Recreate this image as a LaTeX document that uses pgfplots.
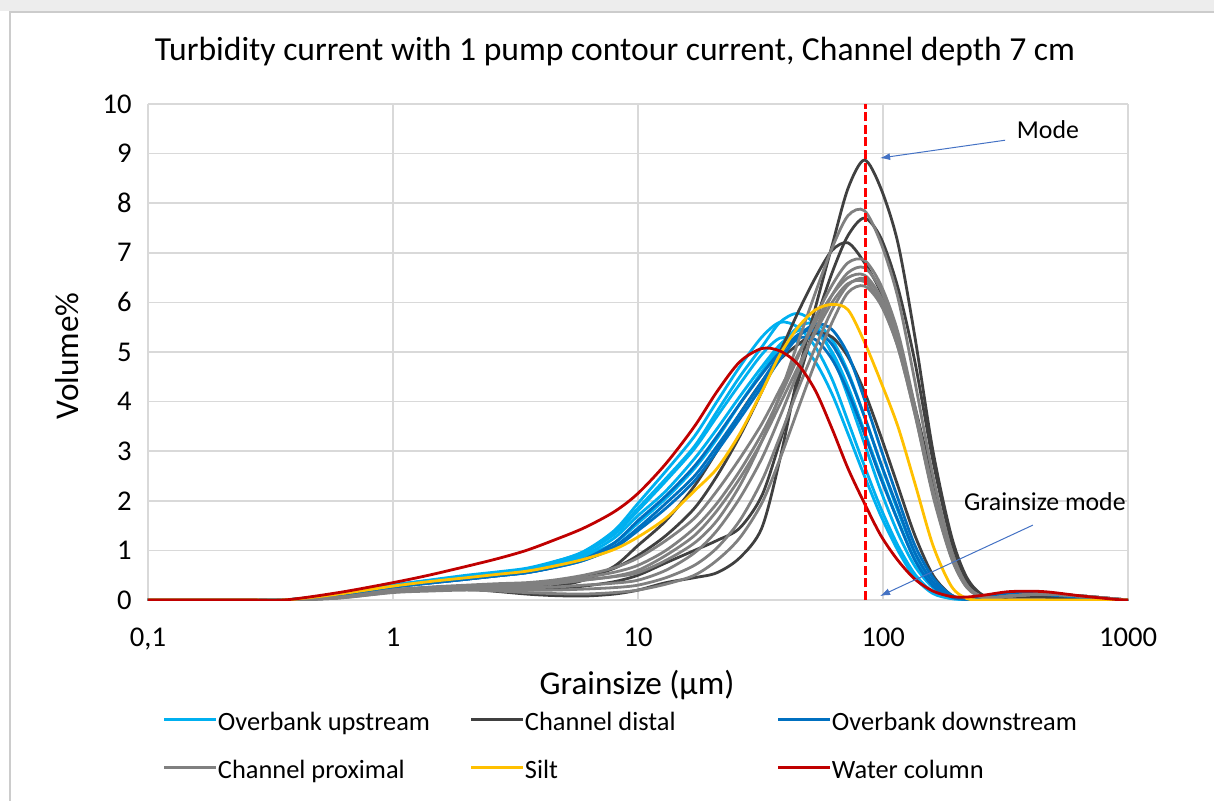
\documentclass[border=0pt]{standalone}
\usepackage{fontspec}
\setmainfont{Carlito}
\usepackage{pgfplots}
\usepackage{pgfplotstable}
\pgfplotsset{compat=1.18}
\usetikzlibrary{arrows.meta}

\definecolor{obup}{HTML}{00B0F0}
\definecolor{chdist}{HTML}{404040}
\definecolor{obdown}{HTML}{0070C0}
\definecolor{chprox}{HTML}{808080}
\definecolor{siltc}{HTML}{FFC000}
\definecolor{wcol}{HTML}{C00000}
\definecolor{gridc}{HTML}{D9D9D9}
\definecolor{arrowc}{HTML}{4472C4}

\pgfplotstableread{
name c01 c02 c03 c04 c05 c06 c07 c08 c09 c10 c11 c12 c13 c14 c15 c16 c17 c18 c19 c20 c21 c22 c23 c24 c25 c26 c27 c28 c29 c30 c31 c32 c33 c34 c35 c36
x 0.1 0.25 0.36 0.6 1 1.4 2 2.7 3.5 4.5 6 8 10 13 17 21 26 32 38 45 53 62 72 84 98 115 135 160 190 220 260 330 450 650 900 1000
wc 0 0 0 0.15 0.35 0.5 0.68 0.84 1.0 1.2 1.45 1.78 2.15 2.75 3.5 4.2 4.8 5.07 5.02 4.75 4.22 3.45 2.65 1.95 1.3 0.8 0.42 0.18 0.07 0.06 0.1 0.17 0.17 0.08 0.01 0
silt 0 0 0 0.12 0.28 0.37 0.45 0.52 0.58 0.68 0.82 1.02 1.27 1.65 2.2 2.65 3.35 4.2 4.95 5.5 5.85 5.96 5.85 5.2 4.4 3.5 2.35 1.1 0.28 0.03 0 0 0 0 0 0
lb1 0 0 0 0.12 0.3 0.39 0.48 0.55 0.62 0.75 0.95 1.35 1.85 2.45 3.1 3.8 4.5 5.1 5.6 5.78 5.55 4.95 4.1 3.15 2.2 1.35 0.68 0.25 0.05 0.02 0.06 0.12 0.1 0.05 0 0
lb2 0 0 0 0.12 0.3 0.39 0.48 0.55 0.62 0.76 0.98 1.4 1.95 2.6 3.3 4.0 4.7 5.3 5.6 5.5 5.1 4.45 3.6 2.7 1.85 1.1 0.52 0.16 0.03 0.02 0.06 0.1 0.08 0.04 0 0
lb3 0 0 0 0.1 0.28 0.37 0.46 0.53 0.6 0.72 0.9 1.25 1.7 2.2 2.85 3.45 4.1 4.7 5.15 5.43 5.4 5.0 4.3 3.4 2.5 1.6 0.82 0.3 0.06 0.02 0.07 0.12 0.1 0.05 0 0
lb4 0 0 0 0.12 0.3 0.4 0.5 0.57 0.64 0.77 0.96 1.32 1.8 2.4 3.05 3.7 4.35 4.95 5.28 5.2 4.8 4.15 3.35 2.5 1.7 1.0 0.45 0.13 0.03 0.02 0.06 0.1 0.08 0.04 0 0
lb5 0 0 0 0.1 0.27 0.36 0.45 0.52 0.58 0.7 0.88 1.15 1.55 2.05 2.65 3.25 3.95 4.6 5.1 5.5 5.58 5.25 4.6 3.7 2.75 1.8 0.95 0.36 0.08 0.02 0.07 0.12 0.1 0.05 0 0
db1 0 0 0 0.1 0.26 0.34 0.42 0.49 0.55 0.65 0.8 1.05 1.4 1.85 2.4 3.0 3.65 4.3 4.85 5.3 5.57 5.45 4.95 4.05 3.05 2.05 1.1 0.45 0.1 0.02 0.08 0.14 0.12 0.06 0 0
db2 0 0 0 0.1 0.26 0.34 0.42 0.49 0.55 0.66 0.82 1.15 1.6 2.1 2.7 3.3 3.95 4.55 5.0 5.28 5.25 4.85 4.2 3.35 2.45 1.6 0.8 0.28 0.06 0.02 0.07 0.13 0.11 0.05 0 0
db3 0 0 0 0.1 0.26 0.34 0.42 0.49 0.55 0.65 0.8 1.08 1.45 1.95 2.5 3.1 3.75 4.4 4.95 5.35 5.43 5.15 4.55 3.7 2.75 1.85 0.95 0.36 0.07 0.02 0.08 0.14 0.12 0.06 0 0
cd1 0 0 0 0.08 0.18 0.21 0.22 0.17 0.12 0.09 0.08 0.12 0.2 0.35 0.45 0.55 0.85 1.45 2.85 4.55 5.9 7.15 8.3 8.87 8.3 7.2 5.3 3.0 1.3 0.45 0.08 0.06 0.06 0.03 0 0
cd2 0 0 0 0.08 0.2 0.23 0.25 0.24 0.22 0.23 0.28 0.37 0.5 0.75 1.0 1.2 1.45 2.1 3.2 4.4 5.6 6.6 7.35 7.7 7.3 6.3 4.8 2.8 1.2 0.4 0.07 0.06 0.06 0.03 0 0
cd3 0 0 0 0.08 0.2 0.23 0.26 0.27 0.28 0.33 0.45 0.64 0.9 1.3 1.85 2.5 3.3 4.2 5.0 5.8 6.5 7.05 7.2 6.8 6.2 5.2 3.9 2.4 1.0 0.3 0.05 0.06 0.06 0.03 0 0
cd4 0 0 0 0.08 0.2 0.23 0.25 0.24 0.22 0.27 0.4 0.68 1.1 1.6 2.3 3.0 3.75 4.4 4.85 5.15 5.38 5.3 4.9 4.2 3.3 2.3 1.3 0.5 0.1 0.02 0.07 0.1 0.08 0.04 0 0
cp1 0 0 0 0.05 0.2 0.25 0.28 0.3 0.3 0.33 0.4 0.47 0.55 0.8 1.15 1.6 2.3 3.2 4.15 5.2 6.2 7.1 7.75 7.85 7.2 6.1 4.4 2.5 1.0 0.3 0.05 0.08 0.12 0.08 0.02 0
cp2 0 0 0 0.05 0.2 0.25 0.28 0.3 0.32 0.37 0.45 0.56 0.7 1.0 1.45 1.95 2.6 3.35 4.1 4.9 5.7 6.35 6.8 6.85 6.35 5.4 3.9 2.2 0.9 0.27 0.05 0.08 0.12 0.08 0.02 0
cp3 0 0 0 0.05 0.18 0.22 0.25 0.25 0.25 0.26 0.3 0.34 0.4 0.6 0.95 1.4 2.05 2.85 3.7 4.6 5.45 6.15 6.6 6.7 6.25 5.3 3.85 2.2 0.9 0.27 0.05 0.08 0.12 0.08 0.02 0
cp4 0 0 0 0.05 0.2 0.26 0.3 0.33 0.35 0.4 0.5 0.65 0.85 1.2 1.65 2.2 2.85 3.55 4.25 4.95 5.6 6.15 6.5 6.55 6.1 5.2 3.8 2.15 0.88 0.26 0.05 0.08 0.12 0.08 0.02 0
cp5 0 0 0 0.04 0.16 0.2 0.22 0.21 0.2 0.2 0.22 0.25 0.3 0.45 0.7 1.05 1.6 2.4 3.3 4.25 5.1 5.85 6.35 6.48 6.1 5.25 3.85 2.2 0.9 0.28 0.05 0.08 0.12 0.08 0.02 0
cp6 0 0 0 0.05 0.19 0.24 0.27 0.29 0.3 0.33 0.4 0.48 0.6 0.9 1.3 1.8 2.45 3.2 3.95 4.7 5.4 6.0 6.38 6.42 6.0 5.1 3.75 2.1 0.85 0.25 0.04 0.08 0.12 0.08 0.02 0
cp7 0 0 0 0.04 0.15 0.18 0.2 0.18 0.15 0.13 0.12 0.15 0.2 0.32 0.5 0.8 1.25 1.95 2.85 3.85 4.8 5.6 6.2 6.33 5.95 5.1 3.75 2.15 0.88 0.27 0.05 0.08 0.12 0.08 0.02 0
}\rawdata
\pgfplotstabletranspose[colnames from=name]\data\rawdata

\begin{document}
\begin{tikzpicture}
\begin{axis}[
  at={(0,0)}, anchor=south west,
  width=490pt, height=248pt, scale only axis,
  xmode=log, xmin=0.1, xmax=1000, ymin=0, ymax=10,
  xtick={0.1,1,10,100,1000}, xticklabels={{0,1},1,10,100,1000},
  ytick={0,1,2,3,4,5,6,7,8,9,10}, yticklabels={0,1,2,3,4,5,6,7,8,9,10},
  xminorticks=false, yminorticks=false,
  major tick length=0pt,
  grid=major, major grid style={draw=gridc, line width=0.8pt},
  axis line style={draw=none},
  ticklabel style={font=\fontsize{14.3}{17}\selectfont},
  xticklabel style={anchor=north, inner sep=0pt, yshift=-14pt},
  yticklabel style={anchor=east, inner sep=0pt, xshift=-8pt},
  every axis plot/.append style={line width=1.4pt, smooth},
  clip mode=individual,
  legend columns=3,
  legend cell align=left,
  legend style={draw=none, fill=none, at={(0.0153,-0.2226)}, anchor=north west,
     inner sep=0pt, outer sep=0pt,
     font=\fontsize{13.2}{15}\selectfont,
     nodes={inner sep=0pt, text height=10pt, text depth=3pt},
     row sep=11pt,
     /tikz/every odd column/.append style={column sep=0pt}},
  legend image code/.code={\draw[#1, line width=1.5pt] (0pt,1.8pt) -- (26pt,1.8pt);},
]
\addplot[obup] table[x=x,y=lb1] {\data};
\addlegendentry{\makebox[126pt][l]{Overbank upstream}}
\addplot[obup, forget plot] table[x=x,y=lb2] {\data};
\addplot[obup, forget plot] table[x=x,y=lb3] {\data};
\addplot[obup, forget plot] table[x=x,y=lb4] {\data};
\addplot[obup, forget plot] table[x=x,y=lb5] {\data};
\addplot[chdist] table[x=x,y=cd1] {\data};
\addlegendentry{\makebox[126pt][l]{Channel distal}}
\addplot[chdist, forget plot] table[x=x,y=cd2] {\data};
\addplot[chdist, forget plot] table[x=x,y=cd3] {\data};
\addplot[chdist, forget plot] table[x=x,y=cd4] {\data};
\addplot[obdown] table[x=x,y=db1] {\data};
\addlegendentry{Overbank downstream}
\addplot[obdown, forget plot] table[x=x,y=db2] {\data};
\addplot[obdown, forget plot] table[x=x,y=db3] {\data};
\addplot[chprox] table[x=x,y=cp1] {\data};
\addlegendentry{\makebox[126pt][l]{Channel proximal}}
\addplot[chprox, forget plot] table[x=x,y=cp2] {\data};
\addplot[chprox, forget plot] table[x=x,y=cp3] {\data};
\addplot[chprox, forget plot] table[x=x,y=cp4] {\data};
\addplot[chprox, forget plot] table[x=x,y=cp5] {\data};
\addplot[chprox, forget plot] table[x=x,y=cp6] {\data};
\addplot[chprox, forget plot] table[x=x,y=cp7] {\data};
\addplot[siltc] table[x=x,y=silt] {\data};
\addlegendentry{\makebox[126pt][l]{Silt}}
\addplot[wcol] table[x=x,y=wc] {\data};
\addlegendentry{Water column}
\addplot[draw={rgb,255:red,255;green,0;blue,0}, line width=1.5pt, dash pattern=on 4.5pt off 1.8pt, sharp plot, forget plot] coordinates {(84.5,0) (84.5,10)};
\draw[arrowc, line width=0.5pt, -{Latex[length=5pt,width=3.5pt]}] (axis cs:315,9.27) -- (axis cs:97.3,8.91);
\node[font=\fontsize{12.9}{15}\selectfont] at (axis cs:471,9.48) {Mode};
\draw[arrowc, line width=0.5pt, -{Latex[length=5pt,width=3.5pt]}] (axis cs:409,1.51) -- (axis cs:97.3,0.08);
\node[font=\fontsize{12.9}{15}\selectfont] at (axis cs:458,1.98) {Grainsize mode};
\end{axis}
\node[font=\fontsize{16.8}{20}\selectfont] at (233.5pt,274pt) {Turbidity current with 1 pump contour current, Channel depth 7 cm};
\node[font=\fontsize{16.6}{20}\selectfont] at (244.5pt,-42.5pt) {Grainsize (µm)};
\node[font=\fontsize{16.6}{20}\selectfont, rotate=90] at (-40.5pt,122pt) {Volume\%};
\fill[black!7] (-74pt,300pt) rectangle (533pt,294.5pt);
\draw[black!20, line width=1pt] (-69pt,-110pt) -- (-69pt,294pt) -- (540pt,294pt);
\pgfresetboundingbox
\path[use as bounding box] (-74pt,-100pt) rectangle (533pt,300pt);
\end{tikzpicture}
\end{document}
